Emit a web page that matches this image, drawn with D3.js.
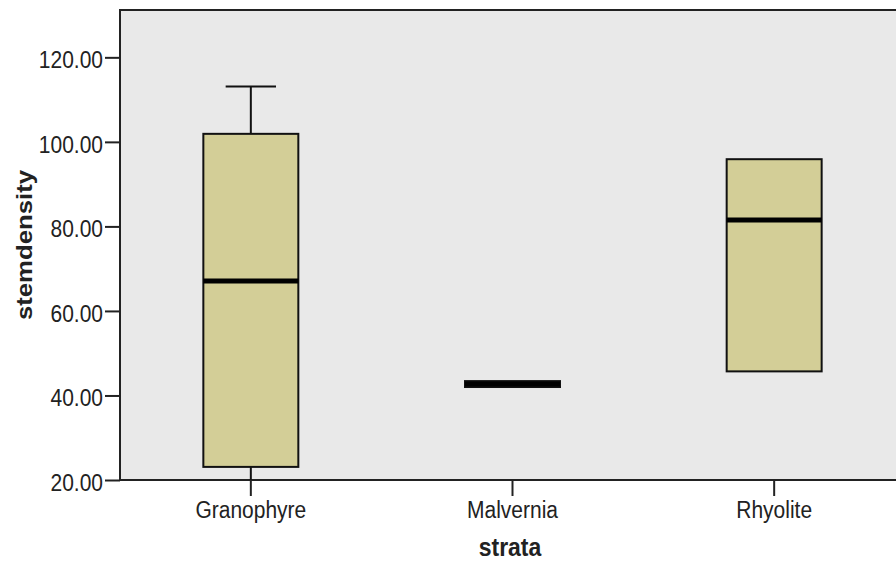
<!DOCTYPE html>
<html>
<head>
<meta charset="utf-8">
<script src="https://cdn.jsdelivr.net/npm/d3@7"></script>
<style>
  html, body { margin: 0; padding: 0; background: #fff; }
  svg { display: block; }
  text { font-family: "Liberation Sans", Arial, sans-serif; fill: #222; }
</style>
</head>
<body>
<svg id="chart" width="896" height="561"></svg>
<script>
// Box-plot summary of stem density for each stratum
const categories = ["Granophyre", "Malvernia", "Rhyolite"];
const minValues    = [20.0, 42.7, 45.7];
const q1Values     = [23.1, 42.0, 45.7];
const medianValues = [67.1, 42.7, 81.5];
const q3Values     = [101.9, 43.4, 95.9];
const maxValues    = [113.1, 42.7, 95.9];
const yTicks = [20, 40, 60, 80, 100, 120];
const xTitle = "strata";
const yTitle = "stemdensity";

const svg = d3.select("#chart");
const plot = { left: 120, top: 10, bottom: 480, right: 905 };
const textStretch = 1.12; // glyphs are drawn a little taller than wide

const x = d3.scaleBand()
  .domain(categories)
  .range([plot.left, plot.right])
  .paddingInner(0)
  .paddingOuter(0);

const y = d3.scaleLinear()
  .domain([20, 131.2])
  .range([plot.bottom, plot.top]);

const boxW = x.bandwidth() * 0.363;
const capW = boxW * 0.53;

// plot background and frame
svg.append("rect")
  .attr("x", plot.left).attr("y", plot.top)
  .attr("width", plot.right - plot.left).attr("height", plot.bottom - plot.top)
  .attr("fill", "#e9e9e9")
  .attr("stroke", "#222").attr("stroke-width", 2);

const data = categories.map((c, i) => ({
  cat: c, min: minValues[i], q1: q1Values[i], med: medianValues[i],
  q3: q3Values[i], max: maxValues[i]
}));

svg.append("clipPath").attr("id", "plotclip")
  .append("rect")
  .attr("x", plot.left).attr("y", plot.top)
  .attr("width", plot.right - plot.left).attr("height", plot.bottom - plot.top);

const g = svg.append("g").attr("clip-path", "url(#plotclip)");

const boxes = g.selectAll("g.box").data(data).join("g").attr("class", "box")
  .attr("transform", d => `translate(${x(d.cat) + x.bandwidth() / 2},0)`);

// whiskers
boxes.filter(d => d.max > d.q3).append("line")
  .attr("x1", 0).attr("x2", 0)
  .attr("y1", d => y(d.q3)).attr("y2", d => y(d.max))
  .attr("stroke", "#111").attr("stroke-width", 2);
boxes.filter(d => d.max > d.q3).append("line")
  .attr("x1", -capW / 2).attr("x2", capW / 2)
  .attr("y1", d => y(d.max)).attr("y2", d => y(d.max))
  .attr("stroke", "#111").attr("stroke-width", 2);
boxes.filter(d => d.min < d.q1).append("line")
  .attr("x1", 0).attr("x2", 0)
  .attr("y1", d => y(d.q1)).attr("y2", d => y(d.min))
  .attr("stroke", "#111").attr("stroke-width", 2);

// boxes
boxes.append("rect")
  .attr("x", -boxW / 2).attr("width", boxW)
  .attr("y", d => y(d.q3)).attr("height", d => y(d.q1) - y(d.q3))
  .attr("fill", "#d3ce97")
  .attr("stroke", "#111").attr("stroke-width", 2);

// medians
boxes.append("line")
  .attr("x1", -boxW / 2).attr("x2", boxW / 2)
  .attr("y1", d => y(d.med)).attr("y2", d => y(d.med))
  .attr("stroke", "#000").attr("stroke-width", 5);

// y axis
const yAxis = d3.axisLeft(y).tickValues(yTicks).tickSize(15).tickPadding(2)
  .tickFormat(d3.format(".2f"));
const yg = svg.append("g").attr("transform", `translate(${plot.left},0)`).call(yAxis);
yg.select(".domain").remove();
yg.selectAll(".tick line").attr("stroke", "#222").attr("stroke-width", 2);
yg.selectAll(".tick text")
  .attr("font-size", 21).attr("fill", "#222")
  .attr("font-family", "'Liberation Sans', Arial, sans-serif")
  .attr("dy", null).attr("y", 10.5 / textStretch)
  .attr("transform", `scale(1,${textStretch})`);

// x axis
const xAxis = d3.axisBottom(x).tickSize(16).tickPadding(5);
const xg = svg.append("g").attr("transform", `translate(0,${plot.bottom})`).call(xAxis);
xg.select(".domain").remove();
xg.selectAll(".tick line").attr("stroke", "#222").attr("stroke-width", 2);
xg.selectAll(".tick text")
  .attr("font-size", 21).attr("fill", "#222")
  .attr("font-family", "'Liberation Sans', Arial, sans-serif")
  .attr("dy", null).attr("y", 38 / textStretch)
  .attr("transform", `scale(1,${textStretch})`);

// axis titles
svg.append("text")
  .attr("transform", `translate(${(plot.left + 896) / 2 + 2},556) scale(1,${textStretch})`)
  .attr("text-anchor", "middle")
  .attr("font-size", 23).attr("font-weight", "bold")
  .text(xTitle);

svg.append("text")
  .attr("transform", `translate(32,${(plot.top + plot.bottom) / 2}) rotate(-90) scale(${textStretch},1)`)
  .attr("text-anchor", "middle")
  .attr("font-size", 23).attr("font-weight", "bold")
  .text(yTitle);
</script>
</body>
</html>
